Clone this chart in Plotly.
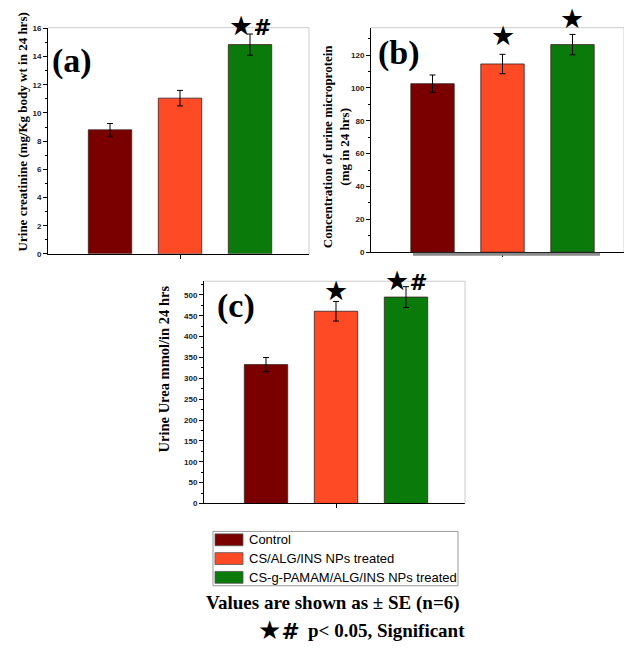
import plotly.graph_objects as go

# ---------------- data ----------------
groups = ["Control", "CS/ALG/INS NPs treated", "CS-g-PAMAM/ALG/INS NPs treated"]
colors = ["#7a0000", "#ff4a26", "#0a7a0a"]

creatinine = [8.8, 11.05, 14.85]
creatinine_se = [0.45, 0.55, 0.75]
microprotein = [102.6, 114.6, 126.4]
microprotein_se = [5.3, 5.9, 6.2]
urea = [333, 461, 495]
urea_se = [17, 23.5, 25]

HASH = "<span style='font-size:22px;font-style:italic;font-weight:bold'>#</span>"
sig_a = ["", "", "★" + HASH]
sig_b = ["", "★", "★"]
sig_c = ["", "★", "★" + HASH]

title_a = "Urine creatinine (mg/Kg body wt in 24 hrs)"
title_b = "Concentration of urine microprotein<br>(mg in 24 hrs)"
title_c = "Urine Urea mmol/in 24 hrs"
labels = ["(a)", "(b)", "(c)"]
note1 = "Values are shown as ± SE (n=6)"
note2 = "p&lt; 0.05, Significant"

W, H = 624, 650
def fx(p):
    return p / W
def fy(p):
    return 1 - p / H

SERIF = "Liberation Serif, Times New Roman, serif"
SANS = "Liberation Sans, Arial, sans-serif"

panels = [
    dict(v=creatinine, se=creatinine_se, sig=sig_a, xpx=(48, 309), ypx=(25, 254),
         xr=[-0.886, 2.843], yr=[0, 16.05], dt=2, title=title_a, tpos=(22, 131), tsize=13,
         label=labels[0], lpos=(72, 59), shifts=[0, 0, -9]),
    dict(v=microprotein, se=microprotein_se, sig=sig_b, xpx=(371, 624), ypx=(25, 252.3),
         xr=[-0.879, 2.736], yr=[0, 136.7], dt=20, title=title_b, tpos=(336, 145), tsize=13,
         label=labels[1], lpos=(399, 51), shifts=[0, 1, -2]),
    dict(v=urea, se=urea_se, sig=sig_c, xpx=(204, 465), ypx=(281.7, 506.7),
         xr=[-0.886, 2.843], yr=[0, 533], dt=50, title=title_c, tpos=(164, 371), tsize=14.5,
         label=labels[2], lpos=(236, 307), shifts=[0, -7, -11]),
]

fig = go.Figure()
annotations = []
shapes = []

for i, p in enumerate(panels):
    n = "" if i == 0 else str(i + 1)
    xa, ya = "x" + n, "y" + n
    fig.add_trace(go.Bar(
        x=list(range(len(groups))), y=p["v"], width=0.62,
        marker=dict(color=colors, line=dict(color="#3a2020", width=0.8)),
        error_y=dict(type="data", array=p["se"], color="black", thickness=1, width=3),
        xaxis=xa, yaxis=ya, showlegend=False, hoverinfo="skip",
    ))
    x0, x1 = p["xpx"]
    y0, y1 = p["ypx"]
    fig.layout["xaxis" + n] = dict(
        domain=[fx(x0), fx(x1)], anchor=ya, range=p["xr"], showgrid=False, zeroline=False,
        showline=True, linecolor="black", linewidth=1, tickvals=[1], ticktext=[""],
        ticks="outside", ticklen=4, tickcolor="black", fixedrange=True,
    )
    fig.layout["yaxis" + n] = dict(
        domain=[fy(y1), fy(y0)], anchor=xa, range=p["yr"], showgrid=False, zeroline=False,
        showline=True, linecolor="black", linewidth=1, dtick=p["dt"], tick0=0,
        ticks="outside", ticklen=4, tickcolor="black",
        tickfont=dict(family=SANS, size=8, color="#222", weight="bold"),
        minor=dict(ticks="outside", ticklen=2, dtick=p["dt"] / 2, tickcolor="black"),
        fixedrange=True,
    )
    # light frame (top / right)
    shapes.append(dict(type="line", xref=xa + " domain", yref=ya + " domain",
                       x0=0, x1=1, y0=1, y1=1, line=dict(color="#cccccc", width=1)))
    shapes.append(dict(type="line", xref=xa + " domain", yref=ya + " domain",
                       x0=1, x1=1, y0=0, y1=1, line=dict(color="#cccccc", width=1)))
    # significance marks
    for j, s in enumerate(p["sig"]):
        if s:
            annotations.append(dict(x=j, y=p["v"][j] + p["se"][j], xref=xa, yref=ya,
                                    text=s, showarrow=False, yanchor="bottom",
                                    yshift=p["shifts"][j],
                                    font=dict(family="DejaVu Sans", size=27, color="black")))
    # axis title
    annotations.append(dict(x=fx(p["tpos"][0]), y=fy(p["tpos"][1]), xref="paper", yref="paper",
                            text="<b>" + p["title"] + "</b>", textangle=-90, showarrow=False,
                            xanchor="center", yanchor="middle",
                            font=dict(family=SERIF, size=p["tsize"], color="black")))
    # panel label
    annotations.append(dict(x=fx(p["lpos"][0]), y=fy(p["lpos"][1]), xref="paper", yref="paper",
                            text="<b>" + p["label"] + "</b>", showarrow=False,
                            xanchor="center", yanchor="middle",
                            font=dict(family=SERIF, size=34, color="black")))

# grey artefact line under panel (b)
shapes.append(dict(type="line", xref="paper", yref="paper", x0=fx(413), x1=fx(600),
                   y0=fy(254.5), y1=fy(254.5), line=dict(color="#8a8a8a", width=3)))

# custom legend
lx0, lx1, ly0, ly1 = 213, 458, 535, 590
shapes.append(dict(type="rect", xref="paper", yref="paper", x0=fx(lx0), x1=fx(lx1),
                   y0=fy(ly1), y1=fy(ly0), line=dict(color="#999999", width=1),
                   fillcolor="white"))
for k, (g, c) in enumerate(zip(groups, colors)):
    cy = 543.5 + k * 19
    shapes.append(dict(type="rect", xref="paper", yref="paper", x0=fx(215), x1=fx(243),
                       y0=fy(cy + 6), y1=fy(cy - 6), fillcolor=c,
                       line=dict(color="#555555", width=0.8)))
    annotations.append(dict(x=fx(247), y=fy(cy), xref="paper", yref="paper", text=g,
                            showarrow=False, xanchor="left", yanchor="middle",
                            font=dict(family=SANS, size=13, color="black")))

# footnotes
annotations.append(dict(x=fx(333), y=fy(607), xref="paper", yref="paper",
                        text="<b>" + note1 + "</b>", showarrow=False,
                        xanchor="center", yanchor="middle",
                        font=dict(family=SERIF, size=19, color="black")))
annotations.append(dict(x=fx(256), y=fy(635), xref="paper", yref="paper",
                        text="★" + HASH, showarrow=False,
                        xanchor="left", yanchor="middle",
                        font=dict(family="DejaVu Sans", size=26, color="black")))
annotations.append(dict(x=fx(306), y=fy(635), xref="paper", yref="paper",
                        text="<b>" + note2 + "</b>", showarrow=False,
                        xanchor="left", yanchor="middle",
                        font=dict(family=SERIF, size=19, color="black")))

fig.update_layout(
    width=W, height=H, margin=dict(l=0, r=0, t=0, b=0),
    paper_bgcolor="white", plot_bgcolor="white",
    annotations=annotations, shapes=shapes, showlegend=False,
)

fig.write_html("out.html")
